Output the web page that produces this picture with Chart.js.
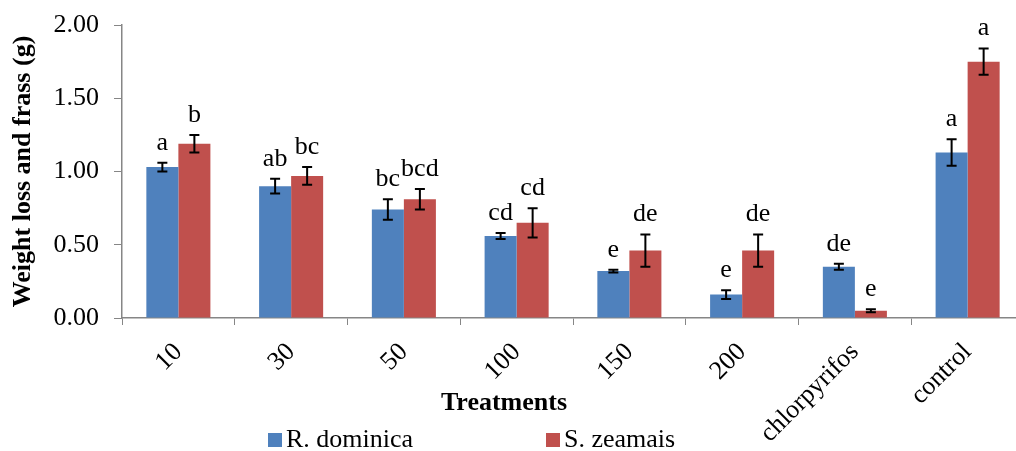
<!DOCTYPE html>
<html>
<head>
<meta charset="utf-8">
<script src="https://cdn.jsdelivr.net/npm/chart.js@4.4.1/dist/chart.umd.min.js"></script>
<style>
  html, body { margin: 0; padding: 0; background: #fff; overflow: hidden; }
  /* the source figure is cropped on the right, so the canvas runs a little past the window */
  #wrap { position: relative; width: 1025px; height: 451px; }
</style>
</head>
<body>
<div id="wrap"><canvas id="chart"></canvas></div>
<script>
// Data
const treatments = ['10', '30', '50', '100', '150', '200', 'chlorpyrifos', 'control'];
const dominicaMeans = [1.03, 0.90, 0.74, 0.56, 0.32, 0.16, 0.35, 1.13];
const dominicaErrors = [0.03, 0.05, 0.07, 0.02, 0.01, 0.03, 0.02, 0.09];
const dominicaLetters = ['a', 'ab', 'bc', 'cd', 'e', 'e', 'de', 'a'];
const zeamaisMeans = [1.19, 0.97, 0.81, 0.65, 0.46, 0.46, 0.05, 1.75];
const zeamaisErrors = [0.06, 0.06, 0.07, 0.10, 0.11, 0.11, 0.01, 0.09];
const zeamaisLetters = ['b', 'bc', 'bcd', 'cd', 'de', 'de', 'e', 'a'];
const yTicks = [0, 0.5, 1.0, 1.5, 2.0];

const serif = "'Liberation Serif', 'Times New Roman', serif";
const axisGrey = '#868686';

// error bars + significance letters, then x title and legend
const extrasPlugin = {
    id: 'extras',
    afterDatasetsDraw(chart) {
        const ctx = chart.ctx;
        const y = chart.scales.y;
        ctx.save();
        chart.data.datasets.forEach((ds, di) => {
            const meta = chart.getDatasetMeta(di);
            meta.data.forEach((bar, i) => {
                const top = y.getPixelForValue(ds.data[i] + ds.errors[i]);
                const bot = y.getPixelForValue(ds.data[i] - ds.errors[i]);
                ctx.strokeStyle = '#000';
                ctx.lineWidth = 2;
                ctx.beginPath();
                ctx.moveTo(bar.x, top); ctx.lineTo(bar.x, bot);
                ctx.moveTo(bar.x - 5, top); ctx.lineTo(bar.x + 5, top);
                ctx.moveTo(bar.x - 5, bot); ctx.lineTo(bar.x + 5, bot);
                ctx.stroke();

                ctx.fillStyle = '#000';
                ctx.font = '26px ' + serif;
                ctx.textAlign = 'center';
                ctx.textBaseline = 'alphabetic';
                ctx.fillText(ds.letters[i], bar.x, top - 13);
            });
        });

        // x axis title
        ctx.font = 'bold 26px ' + serif;
        ctx.textAlign = 'center';
        ctx.textBaseline = 'middle';
        ctx.fillText('Treatments', 504, 403);

        // legend
        ctx.font = '26px ' + serif;
        ctx.textAlign = 'left';
        ctx.textBaseline = 'alphabetic';
        const items = [[268, 0], [546, 1]];
        items.forEach(([lx, di]) => {
            const ds = chart.data.datasets[di];
            ctx.fillStyle = ds.backgroundColor;
            ctx.fillRect(lx, 433, 14, 14);
            ctx.fillStyle = '#000';
            ctx.fillText(ds.label, lx + 18, 447);
        });
        ctx.restore();
    }
};

new Chart(document.getElementById('chart'), {
    type: 'bar',
    data: {
        labels: treatments,
        datasets: [
            {
                label: 'R. dominica',
                data: dominicaMeans,
                errors: dominicaErrors,
                letters: dominicaLetters,
                backgroundColor: '#4F81BD',
                categoryPercentage: 0.568,
                barPercentage: 1.0
            },
            {
                label: 'S. zeamais',
                data: zeamaisMeans,
                errors: zeamaisErrors,
                letters: zeamaisLetters,
                backgroundColor: '#C0504D',
                categoryPercentage: 0.568,
                barPercentage: 1.0
            }
        ]
    },
    options: {
        responsive: true,
        maintainAspectRatio: false,
        animation: false,
        layout: { padding: { top: 25, right: 1, bottom: 0, left: 0 } },
        plugins: {
            legend: { display: false },
            tooltip: { enabled: false }
        },
        scales: {
            x: {
                afterFit: s => { s.height = 133; },
                grid: { offset: true, drawOnChartArea: false, drawTicks: true, tickLength: 7, color: axisGrey },
                border: { color: axisGrey, width: 1.5 },
                ticks: {
                    color: '#000',
                    font: { family: serif, size: 26 },
                    minRotation: 45,
                    maxRotation: 45,
                    padding: 12,
                    autoSkip: false
                }
            },
            y: {
                min: 0,
                max: 2,
                afterFit: s => {
                    s.width = 122;
                    s.paddingTop = 0;
                    s.paddingBottom = 0;
                },
                afterBuildTicks: s => { s.ticks = yTicks.map(v => ({ value: v })); },
                grid: { drawOnChartArea: false, drawTicks: true, tickLength: 8, color: axisGrey },
                border: { color: axisGrey, width: 1.5 },
                title: {
                    display: true,
                    text: 'Weight loss and frass (g)',
                    color: '#000',
                    font: { family: serif, size: 26, weight: 'bold' },
                    padding: { top: 8, bottom: 0 }
                },
                ticks: {
                    color: '#000',
                    font: { family: serif, size: 26 },
                    padding: 15,
                    callback: v => v.toFixed(2)
                }
            }
        }
    },
    plugins: [extrasPlugin]
});
</script>
</body>
</html>
